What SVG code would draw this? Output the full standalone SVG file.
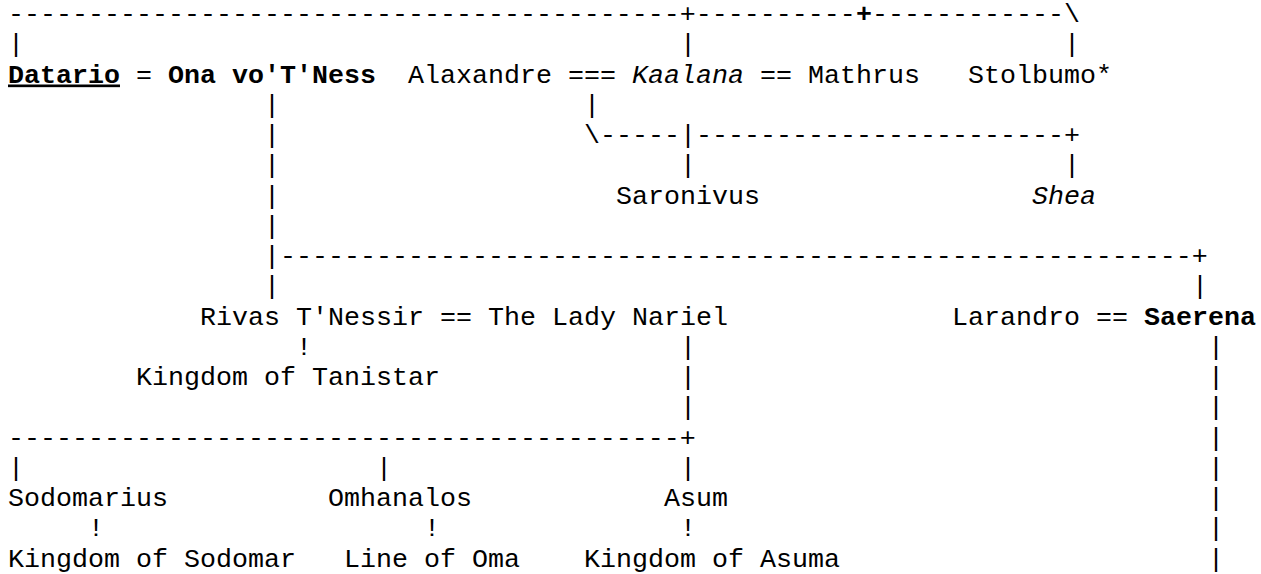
<svg xmlns="http://www.w3.org/2000/svg" width="1261" height="574" viewBox="0 0 1261 574">
<style>
text { font-family: "Liberation Mono", "Courier New", "DejaVu Sans Mono", monospace; font-size: 26.667px; fill: #000; white-space: pre; }
.b { font-weight: bold; }
.i { font-style: italic; }
.u { text-decoration: underline; }
</style>
<rect width="1261" height="574" fill="#fff"/>
<g id="connectors">
<text x="8" y="22">------------------------------------------+----------</text>
<text x="856" y="22" class="b">+</text>
<text x="872" y="22">------------\</text>
<text x="8" y="52.25">|</text><text x="680" y="52.25">|</text><text x="1064" y="52.25">|</text>
<text x="136" y="82.5">=</text><text x="568" y="82.5">===</text><text x="760" y="82.5">==</text>
<text x="264" y="112.75">|</text><text x="584" y="112.75">|</text>
<text x="264" y="143">|</text><text x="584" y="143">\-----|-----------------------+</text>
<text x="264" y="173.25">|</text><text x="680" y="173.25">|</text><text x="1064" y="173.25">|</text>
<text x="264" y="203.5">|</text>
<text x="264" y="233.75">|</text>
<text x="264" y="264">|---------------------------------------------------------+</text>
<text x="264" y="294.25">|</text><text x="1192" y="294.25">|</text>
<text x="440" y="324.5">==</text><text x="1096" y="324.5">==</text>
<text x="296" y="354.75">!</text><text x="680" y="354.75">|</text><text x="1208" y="354.75">|</text>
<text x="680" y="385">|</text><text x="1208" y="385">|</text>
<text x="680" y="415.25">|</text><text x="1208" y="415.25">|</text>
<text x="8" y="445.5">------------------------------------------+</text><text x="1208" y="445.5">|</text>
<text x="8" y="475.75">|</text><text x="376" y="475.75">|</text><text x="680" y="475.75">|</text><text x="1208" y="475.75">|</text>
<text x="1208" y="506">|</text>
<text x="88" y="536.25">!</text><text x="424" y="536.25">!</text><text x="680" y="536.25">!</text><text x="1208" y="536.25">|</text>
<text x="1208" y="566.5">|</text>
</g>
<g id="n-datario"><text x="8" y="82.5" class="b u">Datario</text></g>
<g id="n-ona"><text x="168" y="82.5" class="b">Ona vo'T'Ness</text></g>
<g id="n-alaxandre"><text x="408" y="82.5">Alaxandre</text></g>
<g id="n-kaalana"><text x="632" y="82.5" class="i">Kaalana</text></g>
<g id="n-mathrus"><text x="808" y="82.5">Mathrus</text></g>
<g id="n-stolbumo"><text x="968" y="82.5">Stolbumo*</text></g>
<g id="n-saronivus"><text x="616" y="203.5">Saronivus</text></g>
<g id="n-shea"><text x="1032" y="203.5" class="i">Shea</text></g>
<g id="n-rivas"><text x="200" y="324.5">Rivas T'Nessir</text></g>
<g id="n-nariel"><text x="488" y="324.5">The Lady Nariel</text></g>
<g id="n-larandro"><text x="952" y="324.5">Larandro</text></g>
<g id="n-saerena"><text x="1144" y="324.5" class="b">Saerena</text></g>
<g id="n-tanistar"><text x="136" y="385">Kingdom of Tanistar</text></g>
<g id="n-sodomarius"><text x="8" y="506">Sodomarius</text></g>
<g id="n-omhanalos"><text x="328" y="506">Omhanalos</text></g>
<g id="n-asum"><text x="664" y="506">Asum</text></g>
<g id="n-sodomar"><text x="8" y="566.5">Kingdom of Sodomar</text></g>
<g id="n-oma"><text x="344" y="566.5">Line of Oma</text></g>
<g id="n-asuma"><text x="584" y="566.5">Kingdom of Asuma</text></g>
</svg>
